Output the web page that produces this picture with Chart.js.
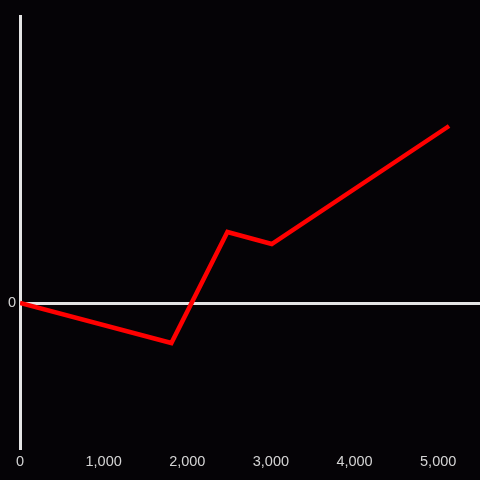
<!DOCTYPE html>
<html lang="en">
<head>
    <meta charset="UTF-8">
    <title>Line chart</title>
    <script src="https://cdn.jsdelivr.net/npm/chart.js"></script>
    <style>
        html, body { margin: 0; padding: 0; background: #050306; }
        #wrap { width: 480px; height: 480px; }
    </style>
</head>
<body>

<div id="wrap"><canvas id="lineChart"></canvas></div>

<script>
// data
const xValues = [0, 1810, 2480, 3010, 5130];
const yValues = [0, -40, 71, 59, 177];
const xTickValues = [0, 1000, 2000, 3000, 4000, 5000];
const yTickValues = [0];

const points = xValues.map((x, i) => ({ x: x, y: yValues[i] }));

const ctx = document.getElementById('lineChart').getContext('2d');
const chart = new Chart(ctx, {
    type: 'line',
    data: {
        datasets: [{
            data: points,
            borderColor: '#ff0000',
            borderWidth: 4.5,
            pointRadius: 0,
            fill: false,
            tension: 0
        }]
    },
    options: {
        responsive: true,
        maintainAspectRatio: false,
        animation: false,
        layout: { padding: { top: 16, right: 0, left: 0, bottom: 0 } },
        plugins: {
            legend: { display: false },
            tooltip: { enabled: false }
        },
        scales: {
            x: {
                type: 'linear',
                min: 0,
                max: 5500,
                afterBuildTicks: axis => {
                    axis.ticks = xTickValues.map(v => ({ value: v }));
                },
                afterFit: axis => { axis.height = 32; },
                grid: { display: false, drawTicks: false },
                border: { display: false },
                ticks: {
                    color: '#d4d4d4',
                    padding: 5,
                    maxRotation: 0,
                    autoSkip: false,
                    font: { family: '"Liberation Sans", Arial, sans-serif', size: 14.5 },
                    callback: v => v.toLocaleString('en-US')
                }
            },
            y: {
                type: 'linear',
                min: -145,
                max: 287,
                afterBuildTicks: axis => {
                    axis.ticks = yTickValues.map(v => ({ value: v }));
                },
                afterFit: axis => { axis.width = 20; },
                grid: { color: '#e4e4e4', lineWidth: 3, drawTicks: false },
                border: { display: true, color: '#e4e4e4', width: 3 },
                ticks: {
                    color: '#d4d4d4',
                    padding: 4,
                    font: { family: '"Liberation Sans", Arial, sans-serif', size: 14.5 }
                }
            }
        }
    }
});
</script>

</body>
</html>
